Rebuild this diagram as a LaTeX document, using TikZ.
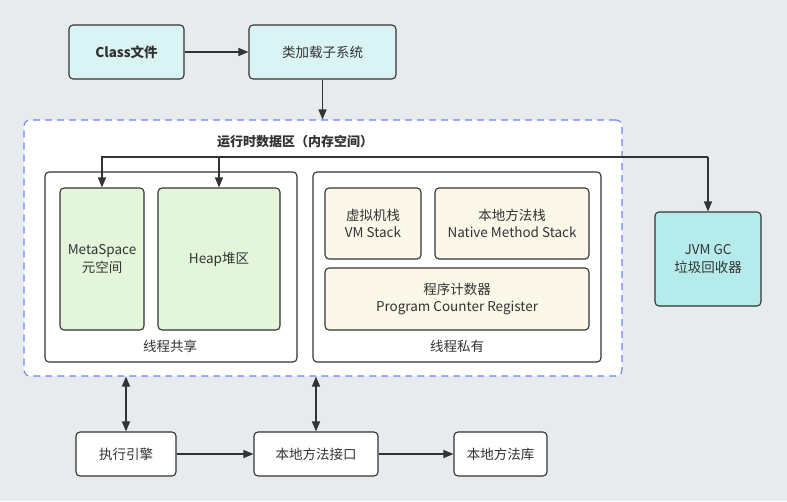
\documentclass[tikz,border=0pt]{standalone}
\usepackage{fontspec}
\setmainfont{Noto Sans CJK SC}
\usetikzlibrary{arrows.meta}

\definecolor{bg}{HTML}{E8EBEE}
\definecolor{edge}{HTML}{333333}
\definecolor{topfill}{HTML}{DAF3F4}
\definecolor{gcfill}{HTML}{B6EBEC}
\definecolor{sharefill}{HTML}{E3F5DA}
\definecolor{privfill}{HTML}{FBF8EA}
\definecolor{dashblue}{HTML}{6A86F0}

\tikzset{
  box/.style={draw=edge, line width=1.1pt, rounded corners=4pt, align=center,
    inner sep=0pt, text=edge, font=\fontsize{13.5}{17.5}\selectfont},
  arr/.style={draw=edge, line width=1.4pt, -{Triangle[length=10pt,width=8pt]}},
  dblarr/.style={draw=edge, line width=1.4pt,
    {Triangle[length=10pt,width=8pt]}-{Triangle[length=10pt,width=8pt]}},
  caption/.style={font=\fontsize{13.5}{17.5}\selectfont, text=edge}
}

\begin{document}
\begin{tikzpicture}[x=1pt,y=-1pt]
      \fill[bg] (0,0) rectangle (787,501);
      \useasboundingbox (0,0) rectangle (787,501);
      % top row
      \node[box, fill=topfill, minimum width=115pt, minimum height=54pt, font=\fontsize{13.5}{17.5}\selectfont\bfseries] (classfile) at (126.5,52) {Class文件};
      \node[box, fill=topfill, minimum width=147pt, minimum height=54pt] (loader) at (322.5,52) {类加载子系统};
      % runtime data area
      \node[draw=dashblue, line width=1.1pt, dash pattern=on 7pt off 5pt, fill=white, rounded corners=6pt,
        minimum width=598pt, minimum height=256pt, inner sep=0pt] (runtime) at (323,248) {};
      \node[caption, font=\fontsize{13}{17}\selectfont\bfseries] (runtimetitle) at (295,142) {运行时数据区（内存空间）};
      % thread shared
      \node[box, fill=white, minimum width=252pt, minimum height=190pt] (shared) at (171,267) {};
      \node[box, fill=sharefill, minimum width=84pt, minimum height=142pt] (meta) at (102,259) {MetaSpace\\元空间};
      \node[box, fill=sharefill, minimum width=122pt, minimum height=142pt] (heap) at (219,259) {Heap堆区};
      \node[caption] (sharedtitle) at (170,346) {线程共享};
      % thread private
      \node[box, fill=white, minimum width=288pt, minimum height=190pt] (private) at (457,267) {};
      \node[box, fill=privfill, minimum width=96pt, minimum height=71pt] (vmstack) at (373,223.5) {虚拟机栈\\VM Stack};
      \node[box, fill=privfill, minimum width=154pt, minimum height=71pt] (native) at (512,223.5) {本地方法栈\\Native Method Stack};
      \node[box, fill=privfill, minimum width=264pt, minimum height=62pt] (pc) at (457,299) {程序计数器\\Program Counter Register};
      \node[caption] (privatetitle) at (457,346) {线程私有};
      % garbage collector
      \node[box, fill=gcfill, minimum width=106pt, minimum height=94pt] (gc) at (708,259) {JVM GC\\垃圾回收器};
      % bottom row
      \node[box, fill=white, minimum width=100pt, minimum height=44pt] (engine) at (126,454) {执行引擎};
      \node[box, fill=white, minimum width=124pt, minimum height=44pt] (jni) at (316,454) {本地方法接口};
      \node[box, fill=white, minimum width=93pt, minimum height=44pt] (lib) at (500.5,454) {本地方法库};
      % connectors
      \draw[arr] (classfile) -- (loader);
      \draw[arr] (loader) -- (runtime.north -| loader);
      \coordinate (gcturn) at (gc.north |- 0,157);
      \draw[arr] (gcturn) -| (meta.north);
      \draw[arr] (gcturn) -- (gc.north);
      \draw[arr] (heap.north |- gcturn) -- (heap.north);
      \draw[dblarr] (runtime.south -| engine) -- (engine);
      \draw[dblarr] (runtime.south -| jni) -- (jni);
      \draw[arr] (engine) -- (jni);
      \draw[arr] (jni) -- (lib);
    \end{tikzpicture}
\end{document}
